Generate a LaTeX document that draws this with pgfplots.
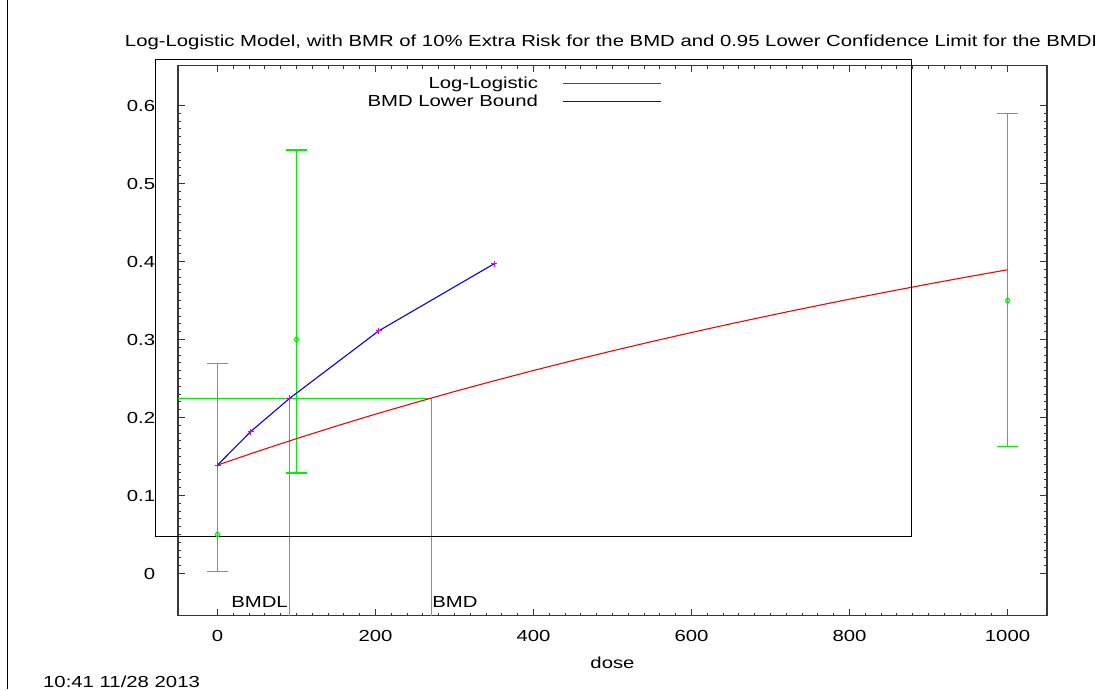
\documentclass[border=0pt]{standalone}
\usepackage{pgfplots}
\pgfplotsset{compat=1.18}
\usepackage{fontspec}
\setmainfont{Liberation Sans}[FakeStretch=1.27]
\definecolor{plotgreen}{RGB}{0,240,0}
\definecolor{axisgray}{RGB}{55,55,55}
\definecolor{markmag}{RGB}{230,0,230}
\begin{document}
\begin{tikzpicture}[font=\fontsize{16pt}{19pt}\selectfont]
\begin{axis}[
  at={(178pt,73.3pt)}, anchor=south west,
  scale only axis, width=869pt, height=549.978pt,
  xmin=-50, xmax=1050, ymin=-0.0541, ymax=0.6510,
  xtick={0,200,400,600,800,1000},
  ytick={0,0.1,0.2,0.3,0.4,0.5,0.6},
  minor x tick num=9, minor y tick num=9,
  tick align=inside, major tick length=6.7pt, minor tick length=3pt,
  axis line style={axisgray, line width=1.3pt},
  every tick/.style={axisgray, line width=0.9pt},
  /pgf/number format/assume math mode=true,
  /pgf/number format/1000 sep={},
  every tick label/.append style={font=\fontsize{16pt}{19pt}\selectfont},
  xticklabel style={anchor=north, inner sep=0pt, yshift=-14.3pt},
  yticklabel style={anchor=east, inner sep=0pt, xshift=-22.7pt},
  xlabel={dose},
  xlabel style={at={(axis description cs:0.5,0)}, anchor=base, inner sep=0pt, yshift=-52.3pt},
  clip=false,
  legend plot pos=right,
  legend cell align=right,
  legend image code/.code={\draw[#1, line width=1.2pt] (0pt,0pt) -- (98pt,0pt);},
  legend style={draw=none, fill=none, at={(axis cs:562,0.6395)}, anchor=north east,
    inner sep=0pt, row sep=1pt, column sep=22pt,
    font=\fontsize{16pt}{19pt}\selectfont},
]
% BMD / BMDL indicator lines
\addplot[plotgreen, line width=1.3pt, forget plot] coordinates {(-50,0.2244) (271,0.2244) (271,-0.0541)};
\addplot[plotgreen, line width=1.3pt, forget plot] coordinates {(91.1,0.2244) (91.1,-0.0541)};
% observed data with confidence intervals
\addplot[plotgreen, only marks, mark=diamond, mark size=3pt, line width=1.1pt, forget plot,
  error bars/.cd, y dir=both, y explicit,
  error bar style={plotgreen, line width=1.3pt},
  error mark options={plotgreen, rotate=90, mark size=10.2pt, line width=1.3pt}]
  coordinates {
  (0,0.05) += (0,0.2194) -= (0,0.0471)
  (100,0.30) += (0,0.2430) -= (0,0.1713)
  (1000,0.35) += (0,0.2397) -= (0,0.1868)
  };
% fitted log-logistic model
\addplot[red, line width=1.1pt] coordinates {
  (0,0.1390) (50,0.1563) (100,0.1729) (150,0.1889) (200,0.2043) (250,0.2190)
  (300,0.2333) (350,0.2470) (400,0.2603) (450,0.2731) (500,0.2855) (550,0.2974)
  (600,0.3090) (650,0.3202) (700,0.3310) (750,0.3415) (800,0.3517) (850,0.3615)
  (900,0.3711) (950,0.3804) (1000,0.3894)
};
\addlegendentry{Log-Logistic}
% BMD lower bound
\addplot[blue, line width=1.1pt, mark=+, mark size=3pt, mark options={markmag, line width=1pt}] coordinates {
  (0,0.139) (42,0.182) (91.1,0.2244) (204,0.311) (350,0.397)
};
\addlegendentry{BMD Lower Bound}
\node[anchor=base east, inner sep=0pt, xshift=-1.5pt] at (axis cs:91.1,-0.044) {BMDL};
\node[anchor=base west, inner sep=0pt, xshift=0.5pt] at (axis cs:271,-0.044) {BMD};
\draw[black, line width=1pt] (axis cs:-78.48,0.047436) rectangle (axis cs:878.48,0.65897);
\end{axis}
\node[anchor=base, inner sep=0pt] at (614pt,642pt) {Log-Logistic Model, with BMR of 10\% Extra Risk for the BMD and 0.95 Lower Confidence Limit for the BMDL};
\node[anchor=base west, inner sep=0pt] at (43pt,1.3pt) {10:41 11/28 2013};
\draw[black, line width=1pt] (7.5pt,0pt) -- (7.5pt,689pt);
\pgfresetboundingbox
\useasboundingbox (0,0) rectangle (1095pt,689pt);
\end{tikzpicture}
\end{document}
